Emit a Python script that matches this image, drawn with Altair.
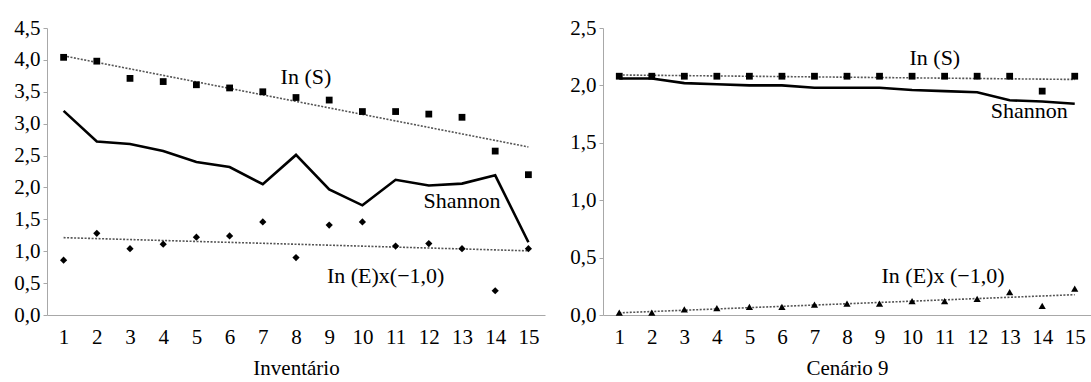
import altair as alt
import pandas as pd

amostras = list(range(1, 16))

inv_ln_s = [4.04, 3.98, 3.71, 3.66, 3.61, 3.56, 3.50, 3.41, 3.37, 3.19, 3.19, 3.15, 3.10, 2.57, 2.20]
inv_shannon = [3.20, 2.72, 2.68, 2.57, 2.40, 2.32, 2.05, 2.51, 1.97, 1.72, 2.12, 2.03, 2.06, 2.19, 1.14]
inv_ln_e = [0.86, 1.28, 1.04, 1.11, 1.22, 1.24, 1.46, 0.90, 1.41, 1.46, 1.08, 1.12, 1.04, 0.38, 1.04]

c9_ln_s = [2.08, 2.08, 2.08, 2.08, 2.08, 2.08, 2.08, 2.08, 2.08, 2.08, 2.08, 2.08, 2.08, 1.95, 2.08]
c9_shannon = [2.06, 2.06, 2.02, 2.01, 2.00, 2.00, 1.98, 1.98, 1.98, 1.96, 1.95, 1.94, 1.87, 1.86, 1.84]
c9_ln_e = [0.02, 0.02, 0.05, 0.06, 0.07, 0.07, 0.09, 0.10, 0.10, 0.12, 0.12, 0.14, 0.20, 0.08, 0.23]

inv_ticks = [0.0, 0.5, 1.0, 1.5, 2.0, 2.5, 3.0, 3.5, 4.0, 4.5]
c9_ticks = [0.0, 0.5, 1.0, 1.5, 2.0, 2.5]

inv_labels = ["In (S)", "Shannon", "In (E)x(\u22121,0)"]
inv_label_x = [8.3, 13.0, 10.7]
inv_label_y = [3.73, 1.79, 0.61]

c9_labels = ["In (S)", "Shannon", "In (E)x (\u22121,0)"]
c9_label_x = [10.7, 13.6, 10.95]
c9_label_y = [2.24, 1.78, 0.34]

FONT = "'Liberation Serif', 'Times New Roman', serif"
AXIS_GREY = "#a8a8a8"
LABEL_EXPR = "replace(format(datum.value, '.1f'), '.', ',')"


def panel(ln_s, shannon, ln_e, e_shape, ticks, title, lab, lab_x, lab_y, width):
    df = pd.DataFrame({
        "x": amostras * 3,
        "v": ln_s + shannon + ln_e,
        "s": ["lnS"] * 15 + ["H"] * 15 + ["lnE"] * 15,
    })
    tdf = pd.DataFrame({"x": lab_x, "v": lab_y, "t": lab})

    xenc = alt.X(
        "x:Q",
        scale=alt.Scale(domain=[0.5, 15.5], nice=False, zero=False),
        axis=alt.Axis(
            values=amostras, title=title, ticks=False, labelPadding=11,
            labelFlush=False, titlePadding=10, domainColor=AXIS_GREY,
            labelFont=FONT, titleFont=FONT,
        ),
    )
    yenc = alt.Y(
        "v:Q",
        scale=alt.Scale(domain=[ticks[0], ticks[-1]], nice=False),
        axis=alt.Axis(
            values=ticks, labelExpr=LABEL_EXPR, title=None, tickSize=4,
            labelPadding=3, minExtent=42, maxExtent=42,
            domainColor=AXIS_GREY, tickColor=AXIS_GREY, labelFont=FONT,
        ),
    )
    base = alt.Chart(df)

    trend = base.transform_filter("datum.s != 'H'").transform_regression(
        "x", "v", groupby=["s"]
    ).mark_line(color="#555555", strokeWidth=1.6, strokeDash=[2, 1.5]).encode(
        x=xenc, y=yenc, detail="s:N"
    )
    line = base.transform_filter("datum.s == 'H'").mark_line(
        color="black", strokeWidth=2.6
    ).encode(x=xenc, y=yenc)
    squares = base.transform_filter("datum.s == 'lnS'").mark_point(
        shape="square", filled=True, size=46, color="black", opacity=1
    ).encode(x=xenc, y=yenc)
    emarks = base.transform_filter("datum.s == 'lnE'").mark_point(
        shape=e_shape, filled=True, size=52, color="black", opacity=1
    ).encode(x=xenc, y=yenc)
    texts = alt.Chart(tdf).mark_text(
        font=FONT, fontSize=22, color="black", align="center", baseline="middle"
    ).encode(x=xenc, y=yenc, text="t:N")

    return alt.layer(trend, line, squares, emarks, texts).properties(
        width=width, height=287
    )


left = panel(inv_ln_s, inv_shannon, inv_ln_e, "diamond", inv_ticks, "Inventário",
             inv_labels, inv_label_x, inv_label_y, 498)
right = panel(c9_ln_s, c9_shannon, c9_ln_e, "triangle-up", c9_ticks, "Cenário 9",
              c9_labels, c9_label_x, c9_label_y, 488)

chart = alt.hconcat(left, right, spacing=16).properties(
    padding={"left": 5, "top": 17, "right": 0, "bottom": 0},
    background="white",
).configure_view(stroke=None).configure_axis(
    grid=False,
    labelFont=FONT, labelFontSize=21, labelColor="black",
    titleFont=FONT, titleFontSize=21, titleFontWeight="normal", titleColor="black",
)

chart.save("out.html", embed_options={"renderer": "svg", "actions": False})
